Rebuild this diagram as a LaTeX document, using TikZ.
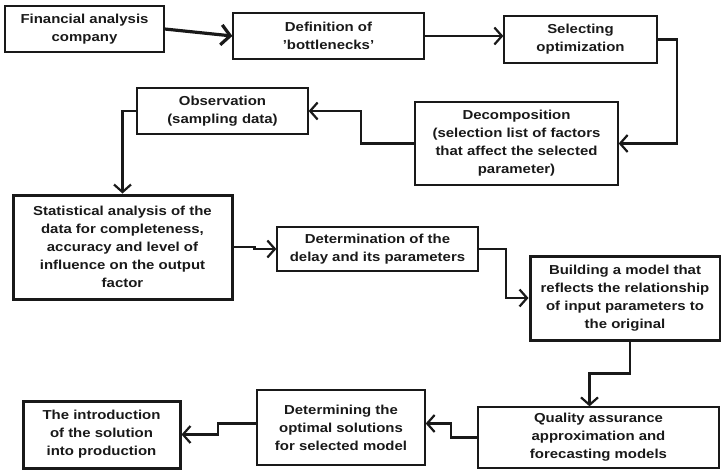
\documentclass[tikz,border=0pt]{standalone}
\usepackage{fontspec}
\setmainfont{Liberation Sans}[FakeStretch=1.15]
\usepackage{tikz}
\usetikzlibrary{arrows.meta,positioning,calc}

\begin{document}
\begin{tikzpicture}[x=1pt, y=-1pt,
  box/.style={rectangle, draw=black!90, line width=1.3pt, inner sep=2pt,
              align=center, text=black!90,
              font=\bfseries\fontsize{13}{18}\selectfont},
  thickbox/.style={box, line width=3pt},
  arrow/.style={-{Straight Barb[length=7.5pt,width=17pt]}, line width=2.2pt, black!90}
]
\useasboundingbox (0,0) rectangle (721,471);
\node[box, minimum width=159pt, minimum height=46pt] (A) at (84.5,29)   {Financial analysis\\company};
\node[box, minimum width=191pt, minimum height=46pt] (B) at (328.5,36)  {Definition of\\'bottlenecks'};
\node[box, minimum width=153pt, minimum height=47pt] (C) at (580.5,39.5) {Selecting\\optimization};
\node[box, minimum width=203pt, minimum height=83pt] (D) at (516.5,143.5) {Decomposition\\(selection list of factors\\that affect the selected\\parameter)};
\node[box, minimum width=171pt, minimum height=46pt] (E) at (222.5,111) {Observation\\(sampling data)};
\node[thickbox, minimum width=219pt, minimum height=104pt] (F) at (122.5,247) {Statistical analysis of the\\data for completeness,\\accuracy and level of\\influence on the output\\factor};
\node[box, minimum width=201pt, minimum height=44pt] (G) at (377.5,249) {Determination of the\\delay and its parameters};
\node[thickbox, minimum width=190pt, minimum height=84pt] (H) at (625,298) {Building a model that\\reflects the relationship\\of input parameters to\\the original};
\node[box, minimum width=241pt, minimum height=61pt] (I) at (598.5,437.5) {Quality assurance\\approximation and\\forecasting models};
\node[box, minimum width=168pt, minimum height=75pt] (J) at (341,427.5) {Determining the\\optimal solutions\\for selected model};
\node[thickbox, minimum width=157pt, minimum height=67pt] (K) at (101.5,434.5) {The introduction\\of the solution\\into production};
% connectors
\draw[arrow, line width=3.2pt, -{Straight Barb[length=9pt,width=20pt]}](A.east)--(B.west);
\draw[arrow](B.east)--(B.east -| C.west);
\draw[arrow](C.east)--++(19,0)|-(D.east);
\draw[arrow](D.west)--++(-53,0)|-(E.east);
\draw[arrow](E.west)-|(F.north);
\draw[arrow](F.east)--++(21,0)|-(G.west);
\draw[arrow](G.east)--++(27,0)|-(H.west);
\draw[arrow]([xshift=5pt]H.south)--++(0,32)-|([xshift=-9pt]I.north);
\draw[arrow](I.west)--++(-26,0)|-([yshift=4pt]J.east);
\draw[arrow]([yshift=4pt]J.west)--++(-38,0)|-(K.east);
\end{tikzpicture}
\end{document}
